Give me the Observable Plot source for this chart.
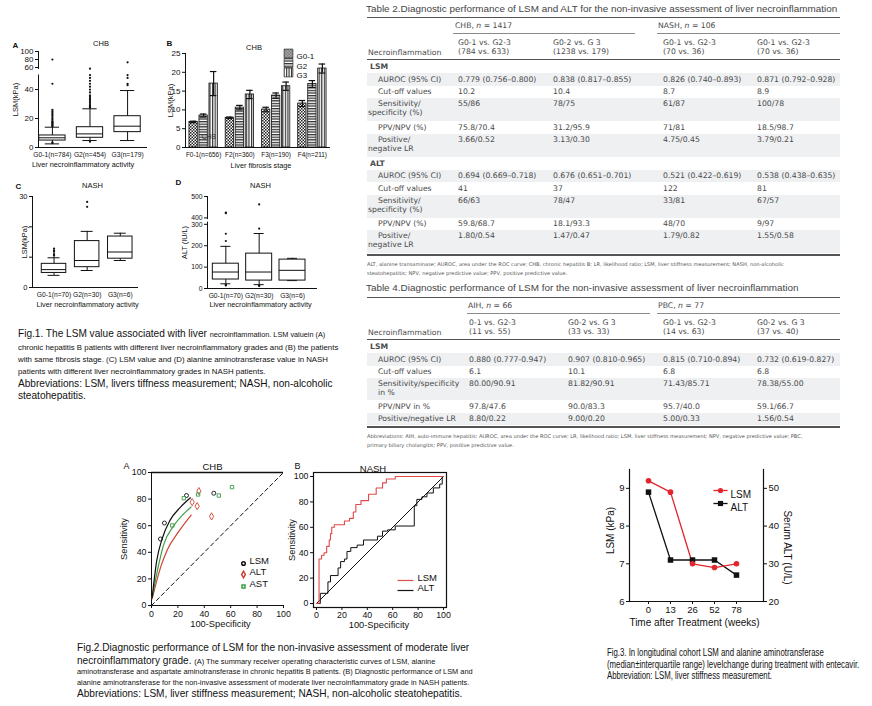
<!DOCTYPE html>
<html><head><meta charset="utf-8">
<script src="https://cdn.jsdelivr.net/npm/d3@7"></script>
<script src="https://cdn.jsdelivr.net/npm/@observablehq/plot@0.6"></script>
<style>
body{margin:0;background:#fff;}
#root{position:relative;width:872px;height:706px;overflow:hidden;font-family:"Liberation Sans",Arial,Helvetica,sans-serif;color:#111;background:#fff;}
.abs{position:absolute;white-space:nowrap;}
.big{font-size:10.1px;}
.small{font-size:7.85px;}
.small1{font-size:7.3px;}
.small2{font-size:7.4px;}
.narrow{font-size:10px;display:inline-block;transform-origin:0 50%;}
.tbl{font-family:"DejaVu Sans",Verdana,sans-serif;font-size:7.7px;color:#4a4a4a;}
.ttl{font-size:9.9px;color:#444;}
.note{font-family:"DejaVu Sans",Verdana,sans-serif;font-size:5.1px;color:#555;}
</style></head><body><div id="root"></div>
<script>
// ---------------- DATA ----------------
// Fig.1 A (CHB, LSM by grade)
const gradesA = ["G0-1(n=784)", "G2(n=454)", "G3(n=179)"];
const lowA = [2.5, 4.8, 4.8];
const q1A = [4.8, 6.7, 10.6];
const medA = [6.7, 9.4, 14.7];
const q3A = [8.3, 14.0, 21.6];
const highA = [14.0, 26.7, 39.3];
const outA = [
  [3, 3.5, 14.5, 15, 15.5, 16, 16.5, 17, 17.5, 18, 19, 20, 21, 22, 23, 24, 25, 26, 44, 80],
  [4, 27.5, 28, 28.5, 29, 30, 31, 32, 33, 34, 35, 36, 38, 40, 42, 44, 46, 48, 50, 57],
  [43, 44, 48, 50, 73]
];
const ticksA = [0, 20, 40, 60, 80, 100];
// Fig.1 B (CHB, LSM by fibrosis stage and grade)
const stagesB = ["F0-1(n=656)", "F2(n=360)", "F3(n=190)", "F4(n=211)"];
const seriesB = ["G0-1", "G2", "G3"];
const meanB = [[6.8, 8.5, 17.0], [7.9, 10.6, 14.1], [10.1, 13.8, 16.3], [11.7, 16.9, 21.0]];
const errB = [[0.2, 0.4, 3.2], [0.2, 0.6, 1.1], [0.6, 0.7, 1.1], [0.8, 0.9, 1.2]];
const ticksB = [0, 5, 10, 15, 20, 25];
// Fig.1 C (NASH, LSM)
const gradesC = ["G0-1(n=70)", "G2(n=30)", "G3(n=6)"];
const lowC = [4.0, 5.6, 8.9];
const q1C = [4.8, 6.7, 9.5];
const medC = [5.9, 8.9, 11.7];
const q3C = [7.8, 15.3, 16.8];
const highC = [9.8, 18.5, 17.9];
const outC = [[10.5, 11, 11.8, 12.2, 12.8], [26.6, 28.2], []];
const ticksC = [0, 10, 20, 30];
// Fig.1 D (NASH, ALT)
const gradesD = ["G0-1(n=70)", "G2(n=30)", "G3(n=6)"];
const lowD = [22, 18, 37];
const q1D = [42, 37, 37];
const medD = [77, 77, 85];
const q3D = [116, 163, 135];
const highD = [197, 257, 141];
const outD = [[14, 16, 18, 222, 256, 422, 425], [12, 14, 280, 463], []];
const ticksD = [0, 100, 200, 300, 400, 500];
// Fig.2 A (CHB SROC)
const studyLSM = [{x: 6.8, y: 50}, {x: 9.8, y: 62}, {x: 26.5, y: 82.7}, {x: 47.2, y: 84.4}];
const studyALT = [{x: 30.8, y: 77.7}, {x: 34.6, y: 74.7}, {x: 35.9, y: 86}, {x: 45.5, y: 67}];
const studyAST = [{x: 15.7, y: 60.2}, {x: 24.5, y: 80.7}, {x: 35.3, y: 83.5}, {x: 51, y: 82.7}, {x: 61, y: 89}];
const srocLSM = [{x: 0.5, y: 6}, {x: 4, y: 34}, {x: 8, y: 50}, {x: 14, y: 64}, {x: 22, y: 74}, {x: 29.5, y: 81}];
const srocAST = [{x: 0.5, y: 6}, {x: 5.5, y: 31}, {x: 9.3, y: 46}, {x: 16.9, y: 60}, {x: 27, y: 71.4}, {x: 30, y: 74}];
const srocALT = [{x: 0.5, y: 5}, {x: 7, y: 29}, {x: 12, y: 42}, {x: 19.5, y: 54}, {x: 30, y: 68}];
const chance = [{x: 0, y: 0}, {x: 100, y: 100}];
const ticks100 = [0, 20, 40, 60, 80, 100];
// Fig.2 B (NASH ROC, step points)
const rocLSM = [[0,0],[2,35],[4,38],[6,40],[8,45],[10,50],[11,55],[12,60],[14,62],[22,65],[26,67],[29,72],[31,78],[35,81],[41,86],[47,91],[52,95],[55,98],[62,100],[100,100]];
const rocALT = [[0,0],[3,8],[9,17],[11,22],[17,28],[19,33],[22,35],[24,41],[27,44],[32,46],[37,50],[43,50],[48,53],[52,57],[56,58],[62,61],[77,77],[79,82],[83,84],[87,87],[92,91],[97,94],[99,100],[100,100]];
// Fig.3 (longitudinal)
const weeks = [0, 13, 26, 52, 78];
const lsmWeeks = [9.2, 8.9, 7.0, 6.9, 7.0];
const altWeeks = [49, 31, 31, 31, 27];
const ticksLSM = [6, 7, 8, 9];
const ticksALT = [20, 30, 40, 50];
// Table 2
const t2Title = "Table 2.Diagnostic performance of LSM and ALT for the non-invasive assessment of liver necroinflammation";
const t2Groups = ["CHB, <i>n</i> = 1417", "NASH, <i>n</i> = 106"];
const t2Cols = [["G0-1 vs. G2-3", "(784 vs. 633)"], ["G0-2 vs. G 3", "(1238 vs. 179)"], ["G0-1 vs. G2-3", "(70 vs. 36)"], ["G0-1 vs. G2-3", "(70 vs. 36)"]];
const t2Labels = [["AUROC (95% CI)"], ["Cut-off values"], ["Sensitivity/", "specificity (%)"], ["PPV/NPV (%)"], ["Positive/", "negative LR"]];
const t2LSM = [["0.779 (0.756–0.800)", "0.838 (0.817–0.855)", "0.826 (0.740–0.893)", "0.871 (0.792–0.928)"], ["10.2", "10.4", "8.7", "8.9"], ["55/86", "78/75", "61/87", "100/78"], ["75.8/70.4", "31.2/95.9", "71/81", "18.5/98.7"], ["3.66/0.52", "3.13/0.30", "4.75/0.45", "3.79/0.21"]];
const t2ALT = [["0.694 (0.669–0.718)", "0.676 (0.651–0.701)", "0.521 (0.422–0.619)", "0.538 (0.438–0.635)"], ["41", "37", "122", "81"], ["66/63", "78/47", "33/81", "67/57"], ["59.8/68.7", "18.1/93.3", "48/70", "9/97"], ["1.80/0.54", "1.47/0.47", "1.79/0.82", "1.55/0.58"]];
const t2Note = ["ALT, alanine transaminase; AUROC, area under the ROC curve; CHB, chronic hepatitis B; LR, likelihood ratio; LSM, liver stiffness measurement; NASH, non-alcoholic", "steatohepatitis; NPV, negative predictive value; PPV, positive predictive value."];
// Table 4
const t4Title = "Table 4.Diagnostic performance of LSM for the non-invasive assessment of liver necroinflammation";
const t4Groups = ["AIH, <i>n</i> = 66", "PBC, <i>n</i> = 77"];
const t4Cols = [["0-1 vs. G2-3", "(11 vs. 55)"], ["G0-2 vs. G 3", "(33 vs. 33)"], ["G0-1 vs. G2-3", "(14 vs. 63)"], ["G0-2 vs. G 3", "(37 vs. 40)"]];
const t4Labels = [["AUROC (95% CI)"], ["Cut-off values"], ["Sensitivity/specificity", "in %"], ["PPV/NPV in %"], ["Positive/negative LR"]];
const t4LSM = [["0.880 (0.777-0.947)", "0.907 (0.810-0.965)", "0.815 (0.710-0.894)", "0.732 (0.619-0.827)"], ["6.1", "10.1", "6.8", "6.8"], ["80.00/90.91", "81.82/90.91", "71.43/85.71", "78.38/55.00"], ["97.8/47.6", "90.0/83.3", "95.7/40.0", "59.1/66.7"], ["8.80/0.22", "9.00/0.20", "5.00/0.33", "1.56/0.54"]];
const t4Note = ["Abbreviations: AIH, auto-immune hepatitis; AUROC, area under the ROC curve; LR, likelihood ratio; LSM, liver stiffness measurement; NPV, negative predictive value; PBC,", "primary biliary cholangitis; PPV, positive predictive value."];
// Captions
const fig1Caption = [
  [["big", "Fig.1. The LSM value associated with liver "], ["small1", "necroinflammation. LSM valuein (A)"]],
  [["small", "chronic hepatitis B patients with different liver necroinflammatory grades and (B) the patients"]],
  [["small", "with same fibrosis stage. (C) LSM value and (D) alanine aminotransferase value in NASH"]],
  [["small", "patients with different liver necroinflammatory grades in NASH patients."]],
  [["big", "Abbreviations: LSM, livers tiffness measurement; NASH, non-alcoholic"]],
  [["big", "steatohepatitis."]]
];
const fig2Caption = [
  [["big", "Fig.2.Diagnostic performance of LSM for the non-invasive assessment of moderate liver"]],
  [["big", "necroinflammatory grade. "], ["small2", "(A) The summary receiver operating characteristic curves of LSM, alanine"]],
  [["small2", "aminotransferase and aspartate aminotransferase in chronic hepatitis B patients. (B) Diagnostic performance of LSM and"]],
  [["small2", "alanine aminotransferase for the non-invasive assessment of moderate liver necroinflammatory grade in NASH patients."]],
  [["big", "Abbreviations: LSM, liver stiffness measurement; NASH, non-alcoholic steatohepatitis."]]
];
const fig3Caption = [
  [["narrow", "Fig.3. In longitudinal cohort LSM and alanine aminotransferase"]],
  [["narrow", "(median±interquartile range) levelchange during treatment with entecavir."]],
  [["narrow", "Abbreviation: LSM, liver stiffness measurement."]]
];

// ---------------- HELPERS ----------------
const root = document.getElementById("root");
const FONT = '"Liberation Sans", Arial, Helvetica, sans-serif';
const INK = "#111";
function place(svg, left, top) {
  svg.style.position = "absolute";
  svg.style.left = left + "px";
  svg.style.top = top + "px";
  svg.style.overflow = "visible";
  root.appendChild(svg);
  return svg;
}
function addDiv(html, x, yc, cls, lh = 11) {
  const d = document.createElement("div");
  d.className = "abs " + (cls || "");
  d.style.left = x + "px";
  d.style.top = (yc - lh / 2) + "px";
  d.style.lineHeight = lh + "px";
  d.innerHTML = html;
  root.appendChild(d);
  return d;
}
function addRect(x, y, w, h, color) {
  const d = document.createElement("div");
  d.className = "abs";
  Object.assign(d.style, {left: x + "px", top: y + "px", width: w + "px", height: h + "px", background: color});
  root.appendChild(d);
  return d;
}
const txt = (t, o) => Plot.text([t], {text: d => d, fill: INK, ...o});
const style = (fs) => ({fontFamily: FONT, fontSize: fs + "px", color: INK, background: "transparent", overflow: "visible"});
function boxData(low, q1, med, q3, high, pos, f) {
  return low.map((_, i) => ({x: pos(i), low: f(low[i]), q1: f(q1[i]), med: f(med[i]), q3: f(q3[i]), high: f(high[i])}));
}
function outData(outs, pos, f) {
  return outs.flatMap((arr, i) => arr.map(v => ({x: pos(i), y: f(v)})));
}
function boxMarks(b, outs, hw, cw, r) {
  return [
    Plot.ruleX(b, {x: "x", y1: "low", y2: "q1", stroke: INK}),
    Plot.ruleX(b, {x: "x", y1: "q3", y2: "high", stroke: INK}),
    Plot.ruleY(b, {y: "low", x1: d => d.x - cw, x2: d => d.x + cw, stroke: INK}),
    Plot.ruleY(b, {y: "high", x1: d => d.x - cw, x2: d => d.x + cw, stroke: INK}),
    Plot.rect(b, {x1: d => d.x - hw, x2: d => d.x + hw, y1: "q1", y2: "q3", fill: "white", stroke: INK, strokeWidth: 1}),
    Plot.ruleY(b, {y: "med", x1: d => d.x - hw, x2: d => d.x + hw, stroke: INK}),
    Plot.dot(outs, {x: "x", y: "y", r, fill: INK, stroke: "none"})
  ];
}
const lineSym = {draw(ctx, size) { const w = Math.sqrt(size); ctx.moveTo(-w, 0); ctx.lineTo(w, 0); }};

// ---------------- FIG 1 A ----------------
{
  const f = v => v <= 50 ? v : 55.2 + (v - 60) * 0.276;
  const pos = i => i + 0.37;
  const tickMap = new Map(ticksA.map(t => [f(t), t]));
  const xMap = new Map(gradesA.map((g, i) => [pos(i), g]));
  const svg = Plot.plot({
    width: 160, height: 150, marginLeft: 38, marginRight: 13, marginTop: 21, marginBottom: 33,
    style: style(8),
    x: {domain: [0, 2.9], axis: null},
    y: {domain: [0, f(100)], axis: null},
    marks: [
      Plot.axisY({ticks: ticksA.map(f), tickFormat: d => tickMap.get(d), tickSize: 3, tickPadding: 2, label: null}),
      Plot.axisX({ticks: gradesA.map((g, i) => pos(i)), tickFormat: d => xMap.get(d), tickSize: 0, tickPadding: 5, label: null, fontSize: 6.7}),
      Plot.ruleY([0], {stroke: INK}),
      Plot.ruleX([0], {y1: 0, y2: 50, stroke: INK}),
      Plot.ruleX([0], {y1: f(55), y2: f(100), stroke: INK}),
      ...boxMarks(boxData(lowA, q1A, medA, q3A, highA, pos, f), outData(outA, pos, f), 0.35, 0.19, 1.1),
      txt("A", {frameAnchor: "top-left", dx: -26, dy: -9, fontWeight: "bold", fontSize: 8}),
      txt("CHB", {frameAnchor: "top", dx: 8, dy: -11, fontSize: 7.5}),
      txt("LSM(kPa)", {frameAnchor: "left", dx: -23, rotate: -90, textAnchor: "middle", fontSize: 7.5}),
      txt("Liver necroinflammatory activity", {frameAnchor: "bottom", dx: -10, dy: 19, textAnchor: "middle", fontSize: 7.3})
    ]
  });
  place(svg, 0, 30);
}

// ---------------- FIG 1 B ----------------
{
  const pats = ["patChk", "patHor", "patVer"];
  const step = 0.276, half = 0.115;
  const rows = stagesB.flatMap((st, i) => seriesB.map((s, j) => ({i, j, x: i + 0.5 + (j - 1) * step, v: meanB[i][j], e: errB[i][j]})));
  const xMap = new Map(stagesB.map((s, i) => [i + 0.5, s]));
  const svg = Plot.plot({
    width: 180, height: 150, marginLeft: 25, marginRight: 10, marginTop: 23, marginBottom: 33,
    style: style(8),
    x: {domain: [0, 4], axis: null},
    y: {domain: [0, 25], axis: null},
    marks: [
      Plot.axisY({ticks: ticksB, tickSize: 3, tickPadding: 2, label: null}),
      Plot.axisX({ticks: stagesB.map((s, i) => i + 0.5), tickFormat: d => xMap.get(d), tickSize: 0, tickPadding: 5, label: null, fontSize: 6.4}),
      ...seriesB.map((s, j) => Plot.rect(rows.filter(d => d.j === j), {x1: d => d.x - half, x2: d => d.x + half, y1: 0, y2: "v", fill: `url(#${pats[j]})`, stroke: INK, strokeWidth: 0.8})),
      Plot.ruleX(rows, {x: "x", y1: d => d.v - d.e, y2: d => d.v + d.e, stroke: INK, strokeWidth: 1.2}),
      Plot.ruleY(rows, {y: d => d.v + d.e, x1: d => d.x - 0.09, x2: d => d.x + 0.09, stroke: INK, strokeWidth: 1.2}),
      Plot.ruleY(rows, {y: d => d.v - d.e, x1: d => d.x - 0.09, x2: d => d.x + 0.09, stroke: INK, strokeWidth: 1.2}),
      Plot.ruleY([0], {stroke: INK}),
      Plot.ruleX([0], {stroke: INK}),
      ...seriesB.map((s, j) => Plot.dot([s], {frameAnchor: "top-right", dx: -42, dy: j * 9.5, symbol: "square", r: 5, fill: `url(#${pats[j]})`, stroke: INK, strokeWidth: 0.6})),
      ...seriesB.map((s, j) => txt(s, {frameAnchor: "top-right", dx: -34, dy: j * 9.5, textAnchor: "start", fontSize: 8})),
      txt("CHB", {frameAnchor: "bottom-left", dx: 16, dy: -9, fontSize: 7, fill: "#333"}),
      txt("B", {frameAnchor: "top-left", dx: -19, dy: -13, fontWeight: "bold", fontSize: 8}),
      txt("CHB", {frameAnchor: "top", dx: -4, dy: -9, fontSize: 7.5}),
      txt("LSM(kPa)", {frameAnchor: "left", dx: -15, rotate: -90, textAnchor: "middle", fontSize: 7.5}),
      txt("Liver fibrosis stage", {frameAnchor: "bottom", dx: 3, dy: 20, textAnchor: "middle", fontSize: 7.3})
    ]
  });
  const defs = d3.select(svg).insert("defs", ":first-child");
  const p1 = defs.append("pattern").attr("id", "patChk").attr("patternUnits", "userSpaceOnUse").attr("width", 3).attr("height", 3);
  p1.append("rect").attr("width", 3).attr("height", 3).attr("fill", "#fff");
  p1.append("rect").attr("width", 1.5).attr("height", 1.5).attr("fill", "#222");
  p1.append("rect").attr("x", 1.5).attr("y", 1.5).attr("width", 1.5).attr("height", 1.5).attr("fill", "#222");
  const p2 = defs.append("pattern").attr("id", "patHor").attr("patternUnits", "userSpaceOnUse").attr("width", 4).attr("height", 2.6);
  p2.append("rect").attr("width", 4).attr("height", 2.6).attr("fill", "#fff");
  p2.append("rect").attr("width", 4).attr("height", 1.3).attr("fill", "#333");
  const p3 = defs.append("pattern").attr("id", "patVer").attr("patternUnits", "userSpaceOnUse").attr("width", 2.6).attr("height", 4);
  p3.append("rect").attr("width", 2.6).attr("height", 4).attr("fill", "#fff");
  p3.append("rect").attr("width", 1.2).attr("height", 4).attr("fill", "#333");
  place(svg, 160, 30);
}

// ---------------- FIG 1 C ----------------
{
  const f = v => v;
  const pos = i => i + 0.65;
  const xMap = new Map(gradesC.map((g, i) => [pos(i), g]));
  const svg = Plot.plot({
    width: 150, height: 140, marginLeft: 32, marginRight: 12, marginTop: 21, marginBottom: 28,
    style: style(7.5),
    x: {domain: [0, 3.2], axis: null},
    y: {domain: [0, 30], axis: null},
    marks: [
      Plot.axisY({ticks: ticksC, tickFormat: d => (d === 0 || d === 30) ? d : "", tickSize: 3, tickPadding: 2, label: null}),
      Plot.axisX({ticks: gradesC.map((g, i) => pos(i)), tickFormat: d => xMap.get(d), tickSize: 0, tickPadding: 5, label: null, fontSize: 6.7}),
      Plot.ruleY([0], {stroke: INK}),
      Plot.ruleX([0], {stroke: INK}),
      ...boxMarks(boxData(lowC, q1C, medC, q3C, highC, pos, f), outData(outC, pos, f), 0.37, 0.18, 1.1),
      txt("C", {frameAnchor: "top-left", dx: -17, dy: -13, fontWeight: "bold", fontSize: 8}),
      txt("NASH", {frameAnchor: "top", dx: 7, dy: -14, fontSize: 7.5}),
      txt("LSM(kPa)", {frameAnchor: "left", dx: -8, rotate: -90, textAnchor: "middle", fontSize: 7.3}),
      txt("Liver necroinflammatory activity", {frameAnchor: "bottom", dx: 2, dy: 19, textAnchor: "middle", fontSize: 7.3})
    ]
  });
  place(svg, 0, 175);
}

// ---------------- FIG 1 D ----------------
{
  const f = v => v <= 310 ? v : v - 70;
  const pos = i => i + 0.55;
  const tickMap = new Map(ticksD.map(t => [f(t), t]));
  const xMap = new Map(gradesD.map((g, i) => [pos(i), g]));
  const svg = Plot.plot({
    width: 160, height: 140, marginLeft: 37, marginRight: 13, marginTop: 21, marginBottom: 27,
    style: style(6.8),
    x: {domain: [0, 3.3], axis: null},
    y: {domain: [0, f(500)], axis: null},
    marks: [
      Plot.axisY({ticks: ticksD.map(f), tickFormat: d => tickMap.get(d), tickSize: 3, tickPadding: 2, label: null}),
      Plot.axisX({ticks: gradesD.map((g, i) => pos(i)), tickFormat: d => xMap.get(d), tickSize: 0, tickPadding: 5, label: null, fontSize: 6.7}),
      Plot.ruleY([0], {stroke: INK}),
      Plot.ruleX([0], {y1: 0, y2: 310, stroke: INK}),
      Plot.ruleX([0], {y1: 322, y2: f(500), stroke: INK}),
      ...boxMarks(boxData(lowD, q1D, medD, q3D, highD, pos, f), outData(outD, pos, f), 0.39, 0.15, 1.1),
      txt("D", {frameAnchor: "top-left", dx: -32, dy: -17, fontWeight: "bold", fontSize: 8}),
      txt("NASH", {frameAnchor: "top", dx: -2, dy: -14, fontSize: 7.5}),
      txt("ALT (IU/L)", {frameAnchor: "left", dx: -23, rotate: -90, textAnchor: "middle", fontSize: 7.3}),
      txt("Liver necroinflammatory activity", {frameAnchor: "bottom", dx: -2, dy: 18, textAnchor: "middle", fontSize: 7.3})
    ]
  });
  place(svg, 170, 175);
}

// ---------------- FIG 2 A ----------------
{
  const RED = "#cf4436", GREEN = "#3a9e45";
  const svg = Plot.plot({
    width: 175, height: 185, marginLeft: 31, marginRight: 12, marginTop: 22, marginBottom: 30,
    style: style(8.8),
    x: {domain: [0, 100], axis: null},
    y: {domain: [0, 100], axis: null},
    marks: [
      Plot.axisX({ticks: ticks100, tickSize: 3, tickPadding: 2, label: null}),
      Plot.axisY({ticks: ticks100, tickSize: 3, tickPadding: 2, label: null}),
      Plot.ruleY([0], {stroke: INK}),
      Plot.ruleY([100], {stroke: INK, strokeWidth: 1.4}),
      Plot.ruleX([0], {stroke: INK}),
      Plot.line(chance, {x: "x", y: "y", stroke: INK, strokeDasharray: "4,3", strokeWidth: 1}),
      Plot.line(srocALT, {x: "x", y: "y", curve: "monotone-x", stroke: RED, strokeWidth: 1.2}),
      Plot.line(srocAST, {x: "x", y: "y", curve: "monotone-x", stroke: GREEN, strokeWidth: 1.2}),
      Plot.line(srocLSM, {x: "x", y: "y", curve: "monotone-x", stroke: INK, strokeWidth: 1.2}),
      Plot.dot(studyLSM, {x: "x", y: "y", r: 2, stroke: INK, fill: "none", strokeWidth: 0.9}),
      Plot.dot(studyALT, {x: "x", y: "y", r: 2.2, symbol: "diamond", stroke: RED, fill: "none", strokeWidth: 0.9}),
      Plot.dot(studyAST, {x: "x", y: "y", r: 1.9, symbol: "square", stroke: GREEN, fill: "none", strokeWidth: 0.9}),
      Plot.dot(["LSM"], {frameAnchor: "bottom-right", dx: -40, dy: -42, r: 1.8, stroke: INK, fill: "none"}),
      Plot.dot(["ALT"], {frameAnchor: "bottom-right", dx: -40, dy: -31, r: 2, symbol: "diamond", stroke: RED, fill: "none"}),
      Plot.dot(["AST"], {frameAnchor: "bottom-right", dx: -40, dy: -19, r: 1.7, symbol: "square", stroke: GREEN, fill: "none"}),
      txt("LSM", {frameAnchor: "bottom-right", dx: -34, dy: -42, textAnchor: "start", fontSize: 9.5}),
      txt("ALT", {frameAnchor: "bottom-right", dx: -34, dy: -31, textAnchor: "start", fontSize: 9.5}),
      txt("AST", {frameAnchor: "bottom-right", dx: -34, dy: -19, textAnchor: "start", fontSize: 9.5}),
      txt("A", {frameAnchor: "top-left", dx: -28, dy: -10, fontSize: 9}),
      txt("CHB", {frameAnchor: "top", dx: -5, dy: -9, fontSize: 9.5}),
      txt("Sensitivity", {frameAnchor: "left", dx: -27, rotate: -90, textAnchor: "middle", fontSize: 9.3}),
      txt("100-Specificity", {frameAnchor: "bottom", dx: 3, dy: 21, textAnchor: "middle", fontSize: 9.3})
    ]
  });
  place(svg, 120, 450);
}

// ---------------- FIG 2 B ----------------
{
  const RED = "#e04a4a";
  const toXY = a => a.map(([x, y]) => ({x, y}));
  const svg = Plot.plot({
    width: 170, height: 185, marginLeft: 23, marginRight: 14, marginTop: 22, marginBottom: 28,
    style: style(8.8),
    x: {domain: [0, 100], inset: 3, axis: null},
    y: {domain: [0, 100], inset: 4, axis: null},
    marks: [
      Plot.axisX({ticks: ticks100, tickSize: 3, tickPadding: 1, label: null}),
      Plot.axisY({ticks: ticks100, tickSize: 3, tickPadding: 2, label: null}),
      Plot.frame({stroke: INK, strokeWidth: 1.2}),
      Plot.line(chance, {x: "x", y: "y", stroke: INK, strokeWidth: 1}),
      Plot.line(toXY(rocALT), {x: "x", y: "y", curve: "step-after", stroke: INK, strokeWidth: 1}),
      Plot.line(toXY(rocLSM), {x: "x", y: "y", curve: "step-after", stroke: RED, strokeWidth: 1.1}),
      Plot.dot(["LSM"], {frameAnchor: "bottom-right", dx: -41, dy: -27, r: 4.5, symbol: lineSym, stroke: RED, fill: "none", strokeWidth: 1.2}),
      Plot.dot(["ALT"], {frameAnchor: "bottom-right", dx: -41, dy: -17, r: 4.5, symbol: lineSym, stroke: INK, fill: "none", strokeWidth: 1.2}),
      txt("LSM", {frameAnchor: "bottom-right", dx: -29, dy: -27, textAnchor: "start", fontSize: 9.5}),
      txt("ALT", {frameAnchor: "bottom-right", dx: -29, dy: -17, textAnchor: "start", fontSize: 9.5}),
      txt("B", {frameAnchor: "top-left", dx: -19, dy: -10, fontSize: 9}),
      txt("NASH", {frameAnchor: "top", dx: -7, dy: -7, fontSize: 9.5}),
      txt("Sensitivity", {frameAnchor: "left", dx: -21, rotate: -90, textAnchor: "middle", fontSize: 9.3}),
      txt("100-Specificity", {frameAnchor: "bottom", dx: -1, dy: 20, textAnchor: "middle", fontSize: 9.3})
    ]
  });
  place(svg, 290, 450);
}

// ---------------- FIG 3 ----------------
{
  const RED = "#e2262c";
  const toL = a => 6 + (a - 20) / 10; // ALT (right axis) in LSM units
  const lsmRows = weeks.map((w, i) => ({w, v: lsmWeeks[i]}));
  const altRows = weeks.map((w, i) => ({w, v: toL(altWeeks[i])}));
  const altMap = new Map(ticksALT.map(t => [toL(t), t]));
  const svg = Plot.plot({
    width: 210, height: 180, marginLeft: 39, marginRight: 37, marginTop: 14, marginBottom: 34,
    style: style(9.5),
    x: {type: "point", domain: weeks, range: [47, 157], axis: null},
    y: {domain: [6, 9.5], axis: null},
    marks: [
      Plot.axisX({tickSize: 3, tickPadding: 2, label: null}),
      Plot.axisY({ticks: ticksLSM, tickFormat: d => String(d), tickSize: 3, tickPadding: 2, label: null}),
      Plot.axisY({anchor: "right", ticks: ticksALT.map(toL), tickFormat: d => altMap.get(d), tickSize: 3, tickPadding: 2, label: null}),
      Plot.frame({anchor: "left", stroke: INK, strokeWidth: 1.2}),
      Plot.frame({anchor: "right", stroke: INK, strokeWidth: 1.2}),
      Plot.frame({anchor: "bottom", stroke: INK, strokeWidth: 1.2}),
      Plot.line(altRows, {x: "w", y: "v", stroke: INK, strokeWidth: 1.3}),
      Plot.line(lsmRows, {x: "w", y: "v", stroke: RED, strokeWidth: 1.3}),
      Plot.dot(altRows, {x: "w", y: "v", symbol: "square", r: 3.1, fill: INK}),
      Plot.dot(lsmRows, {x: "w", y: "v", r: 2.8, fill: RED}),
      Plot.dot(["LSM"], {frameAnchor: "top-right", dx: -43, dy: 21, r: 4, symbol: lineSym, stroke: RED, fill: "none", strokeWidth: 1.3}),
      Plot.dot(["LSM"], {frameAnchor: "top-right", dx: -43, dy: 21, r: 2.6, fill: RED}),
      Plot.dot(["ALT"], {frameAnchor: "top-right", dx: -43, dy: 34, r: 4, symbol: lineSym, stroke: INK, fill: "none", strokeWidth: 1.3}),
      Plot.dot(["ALT"], {frameAnchor: "top-right", dx: -43, dy: 34, r: 2.9, symbol: "square", fill: INK}),
      txt("LSM", {frameAnchor: "top-right", dx: -33, dy: 21, textAnchor: "start", fontSize: 10}),
      txt("ALT", {frameAnchor: "top-right", dx: -33, dy: 34, textAnchor: "start", fontSize: 10}),
      txt("LSM (kPa)", {frameAnchor: "left", dx: -19, dy: -5, rotate: -90, textAnchor: "middle", fontSize: 10}),
      txt("Serum ALT (U/L)", {frameAnchor: "right", dx: 24, dy: 12, rotate: 90, textAnchor: "middle", fontSize: 10}),
      txt("Time after Treatment (weeks)", {frameAnchor: "bottom", dx: -2, dy: 24, textAnchor: "middle", fontSize: 10})
    ]
  });
  place(svg, 590, 455);
}

// ---------------- TABLES ----------------
function buildTable(cfg) {
  const L = 367, W = 473;
  addDiv(cfg.title, 366, cfg.titleY, "ttl", 11);
  addRect(L, cfg.topRule, W, 1.6, "#555");
  cfg.groups.forEach((g, k) => {
    addDiv(g, L + cfg.groupX[k], cfg.topRule + 8.5, "tbl", 9);
    addRect(L + cfg.lineX[k][0], cfg.topRule + 16, cfg.lineX[k][1] - cfg.lineX[k][0], 1.2, "#8a8a8a");
  });
  const hy = cfg.topRule + 25.5;
  cfg.cols.forEach((c, k) => {
    addDiv(c[0], L + cfg.colX[k], hy, "tbl", 9);
    addDiv(c[1], L + cfg.colX[k], hy + 9, "tbl", 9);
  });
  addDiv("Necroinflammation", L + 1, hy + 10, "tbl", 9);
  addRect(L, cfg.topRule + 42, W, 1.3, "#555");
  let y = cfg.topRule + 43.5;
  cfg.sections.forEach(sec => {
    addDiv("<b>" + sec.name + "</b>", L + 3, y + 6.5, "tbl", 9);
    y += 13;
    sec.rows.forEach((vals, r) => {
      const lines = cfg.labels[r];
      const h = lines.length > 1 ? cfg.dbl : 12.5;
      if (r % 2 === 0) addRect(L, y, W, h, "#eef0f2");
      lines.forEach((ln, q) => {
        const indent = (cfg.hang && q === 1) ? 1 : 11;
        addDiv(ln, L + indent, y + (lines.length > 1 ? 5.5 + q * 9 : 6.25), "tbl", 9);
      });
      vals.forEach((v, k) => addDiv(v, L + cfg.colX[k], y + (lines.length > 1 ? 5.5 : 6.25), "tbl", 9));
      y += h;
    });
  });
  addRect(L, y + 0.5, W, 2, "#555");
  cfg.note.forEach((n, q) => addDiv(n, L, y + 11 + q * 8.5, "note", 8));
}
buildTable({
  title: t2Title, titleY: 8, topRule: 16.5, groups: t2Groups, groupX: [88, 291], lineX: [[86, 268], [290, 473]],
  cols: t2Cols, colX: [91, 186, 296, 390], labels: t2Labels, dbl: 23, hang: true,
  sections: [{name: "LSM", rows: t2LSM}, {name: "ALT", rows: t2ALT}], note: t2Note
});
buildTable({
  title: t4Title, titleY: 287, topRule: 296.5, groups: t4Groups, groupX: [101, 291], lineX: [[100, 283], [290, 473]],
  cols: t4Cols, colX: [102, 201, 296, 390], labels: t4Labels, dbl: 22, hang: false,
  sections: [{name: "LSM", rows: t4LSM}], note: t4Note
});

// ---------------- CAPTIONS ----------------
function caption(lines, x, ys) {
  lines.forEach((parts, i) => {
    const html = parts.map(([c, t]) => `<span class="${c}">${t}</span>`).join("");
    addDiv(html, x, ys[i], "", 12);
  });
}
caption(fig1Caption, 18, [332, 345, 357, 369, 382, 394]);
caption(fig2Caption, 77, [646, 659, 669, 680, 692]);
caption(fig3Caption, 607, [651, 663, 674]);
document.querySelectorAll(".narrow").forEach(el => { el.style.transform = "scaleX(0.78)"; });
</script></body></html>
